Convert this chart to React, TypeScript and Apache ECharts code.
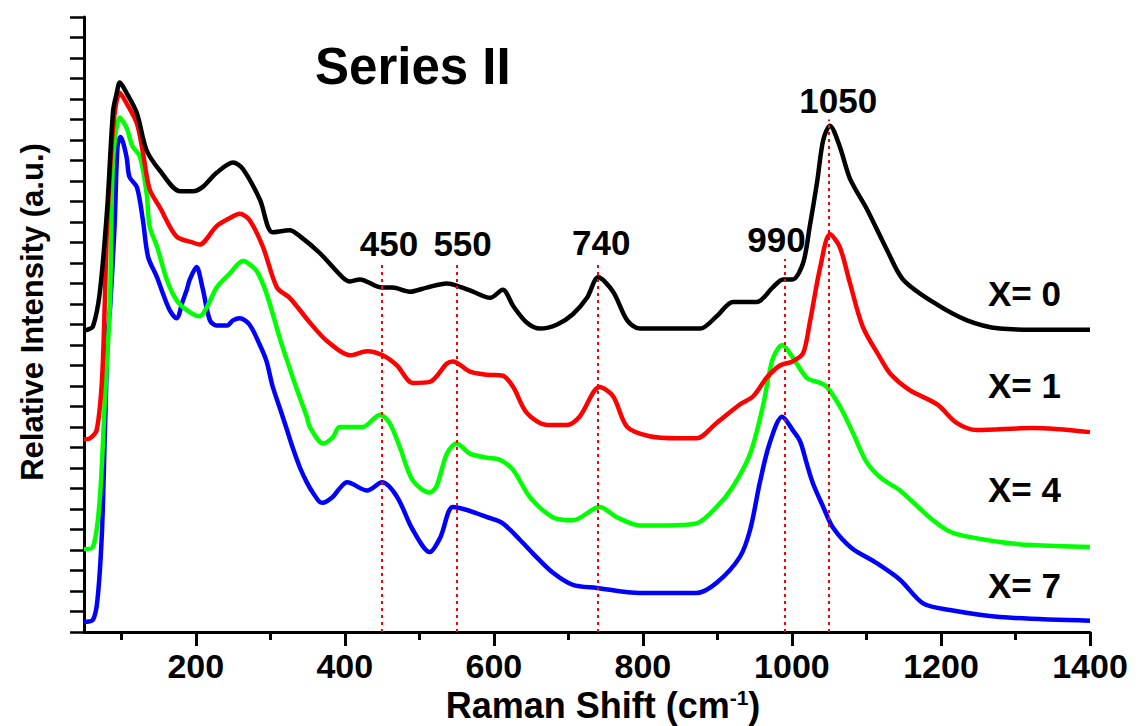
import React, { useEffect, useRef } from "react";
import * as echarts from "echarts";

// Raman spectra, [Raman shift (cm-1), relative intensity (a.u., offset stacked)]
const spectrumX0: [number, number][] = [
  [50, 14.7], [55, 14.75], [62, 14.9], [71, 16.5], [81, 20.6], [89, 25.4], [94, 26.3], [98, 26.8],
  [107, 26.3], [121, 25.3], [134, 23.5], [152, 22.5], [179, 21.5], [196, 21.5], [209, 21.7],
  [228, 22.4], [250, 22.9], [263, 22.6], [286, 21.1], [303, 19.5], [326, 19.6], [340, 19.3],
  [366, 18.5], [397, 17.3], [407, 17.1], [420, 17.2], [450, 16.8], [464, 16.8], [487, 16.6],
  [510, 16.8], [537, 17.0], [550, 16.9], [572, 16.6], [595, 16.3], [612, 16.7], [626, 15.9],
  [644, 15.1], [662, 14.8], [685, 15.0], [706, 15.5], [725, 16.3], [740, 17.3], [760, 16.6],
  [779, 15.2], [796, 14.8], [863, 14.8], [877, 14.8], [899, 15.4], [921, 16.1], [953, 16.1],
  [974, 16.8], [988, 17.2], [1001, 17.2], [1015, 18.0], [1024, 19.8], [1034, 22.0], [1042, 24.0],
  [1051, 24.7], [1064, 23.7], [1078, 22.1], [1101, 20.6], [1128, 18.6], [1149, 17.2], [1189, 16.1],
  [1235, 15.2], [1279, 14.8], [1323, 14.75], [1400, 14.75],
];

const spectrumX1: [number, number][] = [
  [50, 9.4], [58, 9.45], [67, 9.85], [74, 12.2], [78, 16.2], [81, 19.8], [89, 24.6], [98, 26.3],
  [107, 25.8], [121, 24.8], [129, 23.4], [138, 21.6], [152, 20.7], [174, 19.3], [196, 19.0],
  [205, 18.9], [228, 19.8], [246, 20.2], [259, 20.4], [272, 20.1], [290, 18.8], [309, 16.8],
  [326, 16.3], [353, 15.1], [376, 14.2], [407, 13.5], [430, 13.7], [451, 13.5], [470, 13.0],
  [491, 12.15], [514, 12.2], [537, 13.1], [545, 13.2], [568, 12.7], [591, 12.55], [612, 12.5],
  [626, 11.95], [644, 10.7], [671, 10.1], [698, 10.1], [715, 10.5], [742, 11.95], [760, 11.5],
  [779, 10.0], [809, 9.55], [846, 9.45], [872, 9.45], [899, 10.2], [930, 11.1], [948, 11.5],
  [966, 12.4], [984, 13.0], [1001, 13.2], [1015, 13.6], [1024, 15.1], [1038, 17.8], [1051, 19.4],
  [1064, 18.8], [1078, 17.0], [1095, 14.9], [1118, 13.4], [1132, 12.6], [1158, 11.8], [1195, 11.1],
  [1221, 10.2], [1248, 9.85], [1323, 9.95], [1400, 9.75],
];

const spectrumX4: [number, number][] = [
  [50, 4.05], [62, 4.15], [71, 6.4], [78, 11.3], [81, 13.3], [85, 16.2], [89, 23.0], [98, 25.1],
  [107, 24.6], [115, 23.7], [125, 23.2], [134, 21.4], [138, 19.8], [148, 18.8], [161, 17.2],
  [174, 16.2], [188, 15.7], [205, 15.4], [215, 15.85], [228, 16.8], [246, 17.5], [263, 18.1],
  [268, 18.05], [282, 17.6], [295, 16.5], [313, 14.3], [322, 13.3], [336, 11.8], [349, 10.5],
  [353, 10.0], [371, 9.2], [384, 9.5], [393, 10.0], [424, 10.0], [447, 10.6], [460, 10.2],
  [474, 9.0], [491, 7.4], [514, 6.8], [523, 7.1], [537, 8.7], [550, 9.2], [568, 8.7], [591, 8.5],
  [608, 8.4], [626, 7.9], [648, 6.6], [679, 5.6], [706, 5.45], [742, 6.1], [765, 5.6], [796, 5.2],
  [832, 5.2], [872, 5.3], [899, 6.1], [921, 7.1], [944, 8.7], [961, 11.0], [974, 13.3], [987, 14.0],
  [1001, 13.4], [1020, 12.4], [1038, 12.15], [1047, 11.95], [1066, 10.9], [1082, 9.7], [1100, 8.3],
  [1120, 7.5], [1145, 6.9], [1189, 5.46], [1216, 4.83], [1279, 4.39], [1323, 4.24], [1400, 4.15],
];

const spectrumX7: [number, number][] = [
  [50, 0.5], [62, 0.6], [68, 1.55], [74, 4.8], [78, 9.7], [82, 14.6], [85, 15.8], [91, 19.8],
  [95, 23.7], [99, 24.15], [107, 23.2], [111, 22.2], [121, 21.7], [129, 20.1], [136, 18.3],
  [148, 17.3], [156, 16.5], [165, 15.7], [174, 15.3], [183, 16.2], [188, 16.7], [192, 17.2],
  [201, 17.8], [209, 16.8], [219, 15.2], [228, 14.95], [242, 14.95], [250, 15.2], [259, 15.3],
  [272, 15.0], [286, 14.0], [295, 13.2], [303, 12.0], [313, 10.9], [322, 9.9], [330, 9.0],
  [340, 8.0], [349, 7.3], [357, 6.8], [366, 6.35], [370, 6.3], [384, 6.6], [393, 7.0], [403, 7.3],
  [430, 6.9], [450, 7.3], [470, 6.6], [491, 5.0], [514, 3.9], [528, 4.6], [545, 6.1], [564, 5.95],
  [591, 5.6], [612, 5.3], [635, 4.5], [652, 3.85], [679, 2.9], [706, 2.3], [738, 2.15], [796, 1.9],
  [832, 1.9], [872, 1.9], [899, 2.4], [930, 3.65], [944, 5.0], [957, 7.3], [970, 9.2], [987, 10.5],
  [1001, 9.85], [1011, 9.3], [1020, 8.2], [1028, 7.27], [1042, 6.1], [1055, 5.1], [1080, 4.1],
  [1112, 3.4], [1145, 2.55], [1176, 1.4], [1212, 1.07], [1279, 0.73], [1400, 0.55],
];

// marked band positions and the height where each guide line stops
const bandPositions = [450, 550, 740, 990, 1050];
const bandLineTops = [18.0, 18.0, 18.05, 18.2, 25.0];
const bandLabelShift = [7, 6, 3, -8, 9];

const majorTicks = [200, 400, 600, 800, 1000, 1200, 1400];
const minorTicks = [100, 300, 500, 700, 900, 1100, 1300];

const seriesNames = ["X= 0", "X= 1", "X= 4", "X= 7"];
const seriesColors = ["#000000", "#ff0000", "#00ff00", "#0000ff"];
const seriesLabelY = [293, 385, 489, 585];

const FONT = '"Liberation Sans", Arial, sans-serif';

export default function App() {
  const ref = useRef<HTMLDivElement>(null);

  useEffect(() => {
    if (!ref.current) return;
    const chart = echarts.init(ref.current, undefined, { renderer: "svg" });

    const spectra = [spectrumX0, spectrumX1, spectrumX4, spectrumX7];

    const bandLines = bandPositions.map((b, i) => [
      {
        name: String(b),
        coord: [b, 0],
        label: { offset: [bandLabelShift[i], 0] },
      },
      { coord: [b, bandLineTops[i]] },
    ]);

    // draw bottom spectrum first so the X=0 trace lies on top
    const lineSeries = spectra
      .map((data, i) => ({
        type: "line",
        name: seriesNames[i],
        data,
        xAxisIndex: 0,
        yAxisIndex: 0,
        showSymbol: false,
        smooth: 0.3,
        lineStyle: { color: seriesColors[i], width: 4.5, join: "round" },
        itemStyle: { color: seriesColors[i] },
        z: 2 + (3 - i),
        ...(i === 0
          ? {
              markLine: {
                silent: true,
                symbol: ["none", "none"],
                z: 10,
                lineStyle: { color: "#ff0000", width: 2, type: [3, 4] },
                label: {
                  show: true,
                  position: "end",
                  formatter: "{b}",
                  color: "#000",
                  fontFamily: FONT,
                  fontWeight: "bold",
                  fontSize: 35,
                  distance: 2,
                },
                data: bandLines,
              },
            }
          : {}),
      }))
      .reverse();

    chart.setOption({
      animation: false,
      backgroundColor: "#ffffff",
      grid: { left: 84, right: 49, top: 17, bottom: 94, containLabel: false },
      xAxis: [
        {
          type: "value",
          min: 50,
          max: 1400,
          position: "bottom",
          axisLine: { show: true, lineStyle: { color: "#000", width: 3 } },
          axisTick: {
            show: true,
            customValues: majorTicks,
            length: 14,
            lineStyle: { color: "#000", width: 3 },
          },
          axisLabel: {
            show: true,
            customValues: majorTicks,
            formatter: (v: number) => String(v),
            margin: 17,
            color: "#000",
            fontFamily: FONT,
            fontWeight: "bold",
            fontSize: 34,
          },
          splitLine: { show: false },
        },
        {
          type: "value",
          min: 50,
          max: 1400,
          position: "bottom",
          axisLine: { show: false },
          axisTick: {
            show: true,
            customValues: minorTicks,
            length: 8,
            lineStyle: { color: "#000", width: 3 },
          },
          axisLabel: { show: false },
          splitLine: { show: false },
        },
      ],
      yAxis: {
        type: "value",
        min: 0,
        max: 30,
        interval: 1,
        axisLine: { show: true, lineStyle: { color: "#000", width: 3 } },
        axisTick: { show: true, length: 14, lineStyle: { color: "#000", width: 2.5 } },
        axisLabel: { show: false },
        splitLine: { show: false },
      },
      graphic: [
        {
          type: "text",
          x: 315,
          y: 66,
          style: {
            text: "Series II",
            font: `bold 51px ${FONT}`,
            fill: "#000",
            align: "left",
            verticalAlign: "middle",
          },
        },
        {
          type: "text",
          x: 32,
          y: 312,
          rotation: Math.PI / 2,
          style: {
            text: "Relative Intensity (a.u.)",
            font: `bold 31px ${FONT}`,
            fill: "#000",
            align: "center",
            verticalAlign: "middle",
          },
        },
        {
          type: "text",
          x: 603,
          y: 705,
          style: {
            text: "Raman Shift (cm{sup|-1})",
            font: `bold 36px ${FONT}`,
            fill: "#000",
            align: "center",
            verticalAlign: "middle",
            rich: {
              sup: {
                font: `bold 21px ${FONT}`,
                fill: "#000",
                verticalAlign: "top",
              },
            },
          },
        },
        ...seriesNames.map((n, i) => ({
          type: "text",
          x: 988,
          y: seriesLabelY[i],
          style: {
            text: n,
            font: `bold 35px ${FONT}`,
            fill: "#000",
            align: "left",
            verticalAlign: "middle",
          },
        })),
      ],
      series: lineSeries,
    });

    return () => chart.dispose();
  }, []);

  // the chart covers the whole page so its coordinates are page coordinates
  return (
    <div
      ref={ref}
      style={{ position: "absolute", left: 0, top: 0, width: 1139, height: 726 }}
    />
  );
}
